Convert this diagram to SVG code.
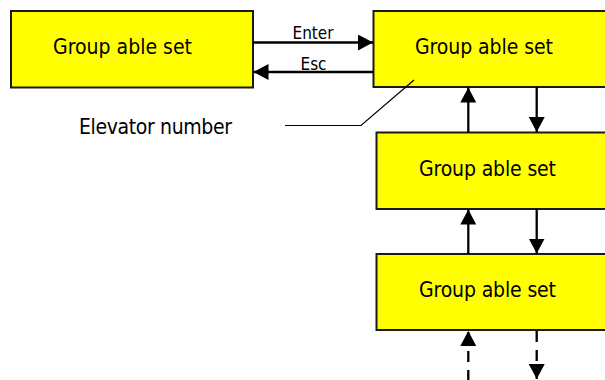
<svg xmlns="http://www.w3.org/2000/svg" width="605" height="380" viewBox="0 0 605 380">
<style>
.box{fill:#ffff00;stroke:#1a1a1a;stroke-width:2}
.lbl{font-family:"DejaVu Sans Condensed","DejaVu Sans",sans-serif;font-size:21px;fill:#000}
.sm{font-family:"DejaVu Sans Condensed","DejaVu Sans",sans-serif;font-size:17px;fill:#000;text-anchor:middle}
.conn{stroke:#000;stroke-width:2.3;fill:none}
.dash{stroke-dasharray:11,8}
.lead{stroke:#000;stroke-width:1.2;fill:none}
</style>
<defs>
<marker id="ah" markerUnits="userSpaceOnUse" markerWidth="16" markerHeight="16" refX="15" refY="8" orient="auto" viewBox="0 0 16 16">
<path d="M0,0 L15,8 L0,16 z" fill="#000"/>
</marker>
</defs>
<rect width="605" height="380" fill="#fff"/>
<g id="node1">
<rect class="box" x="11" y="11" width="242" height="76.5"/>
<text class="lbl" x="53" y="54" textLength="139">Group able set</text>
</g>
<g id="node2">
<rect class="box" x="373.5" y="11" width="240" height="76"/>
<text class="lbl" x="415" y="54" textLength="138">Group able set</text>
</g>
<g id="node3">
<rect class="box" x="376.5" y="132.5" width="240" height="76.5"/>
<text class="lbl" x="419" y="175.5" textLength="137">Group able set</text>
</g>
<g id="node4">
<rect class="box" x="376.5" y="254" width="240" height="76"/>
<text class="lbl" x="419" y="297" textLength="137">Group able set</text>
</g>
<g id="note">
<text class="lbl" x="79" y="134" textLength="153">Elevator number</text>
<polyline class="lead" points="285,125.5 361,125.5 414,80"/>
</g>
<g id="connectors">
<line class="conn" x1="253" y1="42.5" x2="373" y2="42.5" marker-end="url(#ah)"/>
<text class="sm" x="313" y="39">Enter</text>
<line class="conn" x1="373.5" y1="72" x2="253.5" y2="72" marker-end="url(#ah)"/>
<text class="sm" x="313.5" y="70">Esc</text>
<line class="conn" x1="468.3" y1="132.5" x2="468.3" y2="87.5" marker-end="url(#ah)"/>
<line class="conn" x1="536.7" y1="87" x2="536.7" y2="132" marker-end="url(#ah)"/>
<line class="conn" x1="468.3" y1="254" x2="468.3" y2="209.5" marker-end="url(#ah)"/>
<line class="conn" x1="536.7" y1="209" x2="536.7" y2="253.5" marker-end="url(#ah)"/>
<line class="conn dash" x1="468.3" y1="381" x2="468.3" y2="331" marker-end="url(#ah)"/>
<line class="conn dash" x1="536.7" y1="331" x2="536.7" y2="379" marker-end="url(#ah)"/>
</g>
</svg>
